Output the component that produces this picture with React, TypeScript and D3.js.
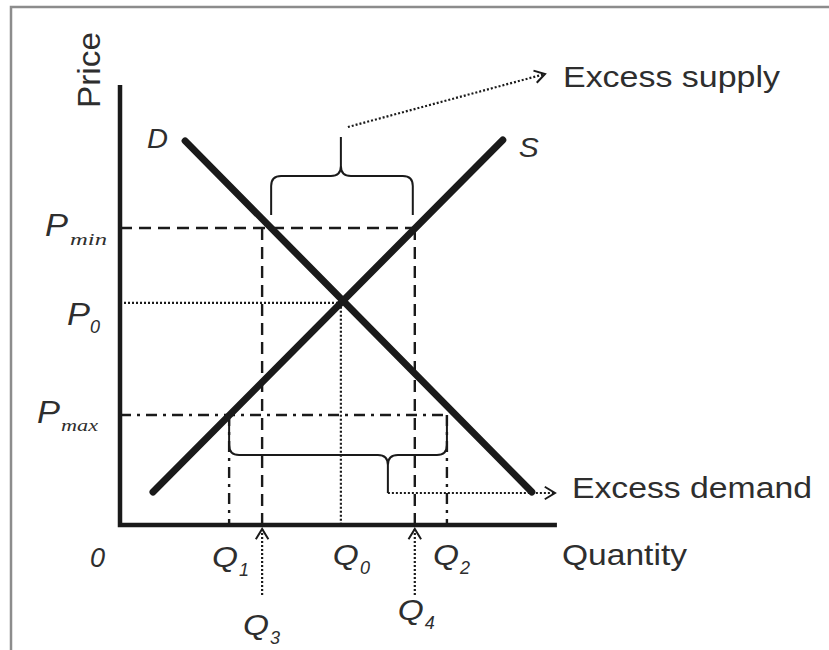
import { useEffect, useRef } from 'react';
import * as d3 from 'd3';

const W = 829;
const H = 650;

// curve end points as [quantity, price]
const demandCurve: [number, number][] = [[14.8, 87.3], [93.6, 7.5]];
const supplyCurve: [number, number][] = [[7.5, 7.5], [87, 87.5]];

// price levels: P_min, P_0, P_max
const priceSubs = ['min', '0', 'max'];
const priceValues = [67.5, 50.5, 25];

// quantities: Q1, Q3, Q0, Q4, Q2
const quantitySubs = ['1', '3', '0', '4', '2'];
const quantityValues = [24.8, 32.3, 50.2, 67, 74.3];

const axisTitles = ['Price', 'Quantity'];
const curveNames = ['D', 'S'];
const noteLabels = ['Excess supply', 'Excess demand'];

// label layout (pixel offsets, kept apart from the data)
const priceLabelPos = [
  { px: 45, sx: 70, dy: 8, sdy: 9, serif: true, len: 37 },
  { px: 67, sx: 90, dy: 22, sdy: 8, serif: false, len: 0 },
  { px: 37, sx: 61, dy: 8, sdy: 8, serif: true, len: 37 },
];
const quantityLabelPos = [
  { dx: -17, dy: 42 },
  { dx: -19, dy: 110 },
  { dx: -8, dy: 40 },
  { dx: -17, dy: 95 },
  { dx: -14, dy: 40 },
];

const ink = '#1a1a1a';
const textInk = '#2e2e2e';
const sans = '"Liberation Sans", Arial, Helvetica, sans-serif';
const serif = '"Liberation Serif", "Times New Roman", serif';

function bracePath(x1: number, x2: number, yEnd: number, yMid: number, tipX: number, yTip: number) {
  const r = 10;
  const s = yMid < yEnd ? -1 : 1;
  const p = d3.path();
  p.moveTo(x1, yEnd);
  p.lineTo(x1, yMid - s * r);
  p.quadraticCurveTo(x1, yMid, x1 + r, yMid);
  p.lineTo(tipX - r, yMid);
  p.quadraticCurveTo(tipX, yMid, tipX, yMid + s * r);
  p.lineTo(tipX, yTip);
  p.moveTo(tipX, yMid + s * r);
  p.quadraticCurveTo(tipX, yMid, tipX + r, yMid);
  p.lineTo(x2 - r, yMid);
  p.quadraticCurveTo(x2, yMid, x2, yMid - s * r);
  p.lineTo(x2, yEnd);
  return p.toString();
}

function chevron(x0: number, y0: number, x1: number, y1: number) {
  const a = Math.atan2(y1 - y0, x1 - x0);
  const len = 12;
  const spread = 0.55;
  const p = d3.path();
  p.moveTo(x1 - len * Math.cos(a - spread), y1 - len * Math.sin(a - spread));
  p.lineTo(x1, y1);
  p.lineTo(x1 - len * Math.cos(a + spread), y1 - len * Math.sin(a + spread));
  return p.toString();
}

// quantity where a straight curve reaches a price
function qAt(curve: [number, number][], price: number) {
  const [[q0, p0], [q1, p1]] = curve;
  return q0 + ((price - p0) * (q1 - q0)) / (p1 - p0);
}

const SupplyDemand = () => {
  const svgRef = useRef<SVGSVGElement>(null);

  useEffect(() => {
    const svg = d3.select(svgRef.current);
    svg.selectAll('*').remove();

    const x = d3.scaleLinear().domain([0, 100]).range([120, 560]);
    const y = d3.scaleLinear().domain([0, 100]).range([525, 85]);

    const [pMin, p0, pMax] = priceValues;
    const [q1, q3, q0, q4, q2] = quantityValues;

    // frame
    svg.append('rect')
      .attr('x', 11).attr('y', 7)
      .attr('width', W).attr('height', H)
      .attr('fill', 'white')
      .attr('stroke', '#8c8c8c')
      .attr('stroke-width', 2.5);

    const g = svg.append('g');
    const line = d3.line<[number, number]>().x(d => x(d[0])).y(d => y(d[1]));

    const guide = (pts: [number, number][], dash: string, w = 2.4) =>
      g.append('path')
        .attr('d', line(pts))
        .attr('fill', 'none')
        .attr('stroke', ink)
        .attr('stroke-width', w)
        .attr('stroke-dasharray', dash);

    // P_min dashed and Q3, Q4
    guide([[0, pMin], [q4, pMin]], '12,7');
    guide([[q3, pMin], [q3, 0]], '12,7');
    guide([[q4, pMin], [q4, 0]], '12,7');
    // P_0 dotted and Q0
    guide([[0, p0], [q0, p0]], '2,2', 2.2);
    guide([[q0, p0], [q0, 0]], '2,2', 2.2);
    // P_max dash-dot and Q1, Q2
    guide([[0, pMax], [q2, pMax]], '11,6,3,6');
    guide([[q1, pMax], [q1, 0]], '11,6,3,6');
    guide([[q2, pMax], [q2, 0]], '11,6,3,6');

    // axes
    g.append('path')
      .attr('d', `M${x(0)},${y(100)}L${x(0)},${y(0)}L${x(99.3)},${y(0)}`)
      .attr('fill', 'none')
      .attr('stroke', ink)
      .attr('stroke-width', 4.5)
      .attr('stroke-linejoin', 'miter');

    // curves
    [demandCurve, supplyCurve].forEach(c => {
      g.append('path')
        .attr('d', line(c))
        .attr('fill', 'none')
        .attr('stroke', ink)
        .attr('stroke-width', 7)
        .attr('stroke-linecap', 'round');
    });

    // excess supply brace and arrow
    const xsL = x(qAt(demandCurve, pMin));
    const xsR = x(q4) - 2;
    const yMinPx = y(pMin);
    g.append('path')
      .attr('d', bracePath(xsL, xsR, yMinPx - 13, yMinPx - 52, x(q0), yMinPx - 91))
      .attr('fill', 'none').attr('stroke', ink).attr('stroke-width', 2);
    const sa: [number, number, number, number] = [x(q0) + 7, yMinPx - 101, 545, 74];
    g.append('path')
      .attr('d', `M${sa[0]},${sa[1]}L${sa[2]},${sa[3]}`)
      .attr('stroke', ink).attr('stroke-width', 2.2).attr('stroke-dasharray', '2,2');
    g.append('path')
      .attr('d', chevron(sa[0], sa[1], sa[2], sa[3]))
      .attr('fill', 'none').attr('stroke', ink).attr('stroke-width', 2);

    // excess demand brace and arrow
    const yMaxPx = y(pMax);
    const tipD = x(q0) + 47;
    g.append('path')
      .attr('d', bracePath(x(q1), x(q2), yMaxPx, yMaxPx + 40, tipD, yMaxPx + 78))
      .attr('fill', 'none').attr('stroke', ink).attr('stroke-width', 2);
    const da: [number, number, number, number] = [tipD, yMaxPx + 78, 555, yMaxPx + 78];
    g.append('path')
      .attr('d', `M${da[0]},${da[1]}L${da[2]},${da[3]}`)
      .attr('stroke', ink).attr('stroke-width', 2.2).attr('stroke-dasharray', '2,2');
    g.append('path')
      .attr('d', chevron(da[0], da[1], da[2], da[3]))
      .attr('fill', 'none').attr('stroke', ink).attr('stroke-width', 2);

    // Q3 and Q4 pointers from below
    [q3, q4].forEach(q => {
      const pts: [number, number, number, number] = [x(q), y(0) + 70, x(q), y(0) + 4];
      g.append('path')
        .attr('d', `M${pts[0]},${pts[1]}L${pts[2]},${pts[3]}`)
        .attr('stroke', ink).attr('stroke-width', 2.2).attr('stroke-dasharray', '2,2');
      g.append('path')
        .attr('d', chevron(pts[0], pts[1], pts[2], pts[3]))
        .attr('fill', 'none').attr('stroke', ink).attr('stroke-width', 2);
    });

    // texts
    const t = svg.append('g').attr('fill', textInk).attr('font-family', sans);

    t.append('text')
      .attr('transform', `translate(100,70) rotate(-90)`)
      .attr('text-anchor', 'middle')
      .attr('font-size', 31)
      .attr('textLength', 76)
      .attr('lengthAdjust', 'spacingAndGlyphs')
      .text(axisTitles[0]);
    t.append('text')
      .attr('x', 562).attr('y', y(0) + 40)
      .attr('font-size', 29)
      .attr('textLength', 125)
      .attr('lengthAdjust', 'spacingAndGlyphs')
      .text(axisTitles[1]);

    t.append('text')
      .attr('x', 563).attr('y', 87)
      .attr('font-size', 30)
      .attr('textLength', 217)
      .attr('lengthAdjust', 'spacingAndGlyphs')
      .text(noteLabels[0]);
    t.append('text')
      .attr('x', 572).attr('y', 498)
      .attr('font-size', 29)
      .attr('textLength', 240)
      .attr('lengthAdjust', 'spacingAndGlyphs')
      .text(noteLabels[1]);

    // curve names
    t.append('text')
      .attr('x', x(demandCurve[0][0]) - 38).attr('y', y(demandCurve[0][1]) + 7)
      .attr('font-size', 28).attr('font-style', 'italic')
      .attr('textLength', 21).attr('lengthAdjust', 'spacingAndGlyphs')
      .text(curveNames[0]);
    t.append('text')
      .attr('x', x(supplyCurve[1][0]) + 16).attr('y', y(supplyCurve[1][1]) + 17)
      .attr('font-size', 28).attr('font-style', 'italic')
      .attr('textLength', 20).attr('lengthAdjust', 'spacingAndGlyphs')
      .text(curveNames[1]);

    // origin
    t.append('text')
      .attr('x', 90).attr('y', y(0) + 42)
      .attr('font-size', 27).attr('font-style', 'italic')
      .text('0');

    // price labels
    priceValues.forEach((v, i) => {
      const L = priceLabelPos[i];
      t.append('text')
        .attr('x', L.px).attr('y', y(v) + L.dy)
        .attr('font-size', 31).attr('font-style', 'italic')
        .attr('textLength', 23).attr('lengthAdjust', 'spacingAndGlyphs')
        .text('P');
      const sub = t.append('text')
        .attr('x', L.sx).attr('y', y(v) + L.dy + L.sdy)
        .attr('font-size', L.serif ? 17 : 18)
        .attr('font-style', 'italic')
        .attr('font-family', L.serif ? serif : sans)
        .text(priceSubs[i]);
      if (L.len) sub.attr('textLength', L.len).attr('lengthAdjust', 'spacingAndGlyphs');
    });

    // quantity labels
    quantityValues.forEach((v, i) => {
      const L = quantityLabelPos[i];
      const lx = x(v) + L.dx;
      const ly = y(0) + L.dy;
      t.append('text')
        .attr('x', lx).attr('y', ly)
        .attr('font-size', 29).attr('font-style', 'italic')
        .attr('textLength', 26).attr('lengthAdjust', 'spacingAndGlyphs')
        .text('Q');
      t.append('text')
        .attr('x', lx + 27).attr('y', ly + 9)
        .attr('font-size', 18).attr('font-style', 'italic')
        .text(quantitySubs[i]);
    });
  }, []);

  return (
    <svg
      ref={svgRef}
      width={W}
      height={H}
      style={{ position: 'absolute', left: 0, top: 0, background: 'white' }}
    />
  );
};

export default function App() {
  return <SupplyDemand />;
}
